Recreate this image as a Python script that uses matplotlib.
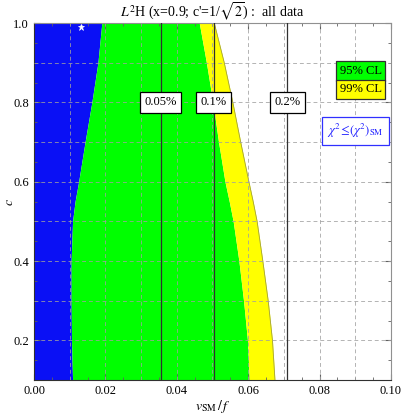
import numpy as np
import matplotlib
matplotlib.use("Agg")
import matplotlib.pyplot as plt
from matplotlib.ticker import MultipleLocator, FormatStrFormatter

plt.rcParams['font.family'] = ['Liberation Serif', 'DejaVu Serif']
plt.rcParams['mathtext.fontset'] = 'stix'

# boundaries, as v_SM/f at each value of c
c_vals = [0.1, 0.2, 0.3, 0.4, 0.5, 0.55, 0.6, 0.7, 0.8, 0.9, 1.0]
blue_edge = [0.0108, 0.0105, 0.0104, 0.0104, 0.0108, 0.0115, 0.0125, 0.0143, 0.0162, 0.0179, 0.0190]
green_edge = [0.0603, 0.0598, 0.0587, 0.0574, 0.0558, 0.0547, 0.0535, 0.0517, 0.0501, 0.0483, 0.0463]
yellow_edge = [0.0675, 0.0668, 0.0656, 0.0641, 0.0625, 0.0614, 0.0602, 0.0579, 0.0557, 0.0533, 0.0505]

tuning_x = [0.0355, 0.0503, 0.0709]
tuning_labels = ['0.05%', '0.1%', '0.2%']
best_fit = (0.0132, 0.99)

fig = plt.figure(figsize=(4.01, 4.2), dpi=100)
ax = fig.add_axes([0.0848, 0.0952, 0.8902, 0.8498])

ax.fill_betweenx(c_vals, 0, blue_edge, color='#0a10f5', lw=0, zorder=1)
ax.fill_betweenx(c_vals, blue_edge, green_edge, color='#00ff00', lw=0, zorder=1)
ax.fill_betweenx(c_vals, green_edge, yellow_edge, color='#ffff00', lw=0, zorder=1)
ax.plot(yellow_edge, c_vals, color='#a0a040', lw=0.6, zorder=2)

# dashed grid every 0.01 in x and 0.1 in c
grid_kw = dict(color='#a0a0a0', ls=(0, (4, 3)), lw=0.7, alpha=0.8, zorder=3)
for gx in np.arange(0.01, 0.1, 0.01):
    ax.axvline(gx, **grid_kw)
for gy in np.arange(0.2, 1.0, 0.1):
    ax.axhline(gy, **grid_kw)

for x, lab in zip(tuning_x, tuning_labels):
    ax.axvline(x, color='#303030', lw=0.9, zorder=4)
    ax.text(x, 0.8, lab, ha='center', va='center', fontsize=9, zorder=6,
            bbox=dict(boxstyle='square,pad=0.35', fc='white', ec='black', lw=0.9))

ax.plot(*best_fit, marker='*', color='white', ms=5, mew=0.5, zorder=5)

ax.text(0.0915, 0.879, '95% CL', ha='center', va='center', fontsize=9, zorder=6,
        bbox=dict(boxstyle='square,pad=0.3', fc='#00ff00', ec='#303030', lw=0.9))
ax.text(0.0915, 0.833, '99% CL', ha='center', va='center', fontsize=9, zorder=6,
        bbox=dict(boxstyle='square,pad=0.3', fc='#ffff00', ec='#303030', lw=0.9))
ax.text(0.090, 0.729, r'$\chi^2\!\leq\!(\chi^2)_{\rm SM}$', ha='center', va='center',
        fontsize=9, color='#2020ff', zorder=6,
        bbox=dict(boxstyle='square,pad=0.4', fc='white', ec='#3030ff', lw=0.9))

ax.set_xlim(0, 0.10)
ax.set_ylim(0.1, 1.0)
ax.xaxis.set_major_locator(MultipleLocator(0.02))
ax.xaxis.set_minor_locator(MultipleLocator(0.005))
ax.yaxis.set_major_locator(MultipleLocator(0.2))
ax.yaxis.set_minor_locator(MultipleLocator(0.05))
ax.xaxis.set_major_formatter(FormatStrFormatter('%.2f'))
ax.yaxis.set_major_formatter(FormatStrFormatter('%.1f'))
ax.tick_params(which='both', direction='in', top=True, right=True, labelsize=9,
               color='#606060')
ax.tick_params(which='major', length=4)
ax.tick_params(which='minor', length=2)

for side in ['top', 'right']:
    ax.spines[side].set_color('#909090')
for side in ['bottom', 'left']:
    ax.spines[side].set_color('#303030')

ax.set_xlabel(r'$v_{\rm SM}\,/\,f$', fontsize=10, labelpad=1)
ax.set_ylabel(r'$c$', fontsize=10)
ax.yaxis.set_label_coords(-0.05, 0.5)
ax.set_title(r"$L^2$H (x=0.9; c'=1/$\sqrt{2}$) :  all data", fontsize=10, pad=4)

fig.savefig('out.png', dpi=100)
